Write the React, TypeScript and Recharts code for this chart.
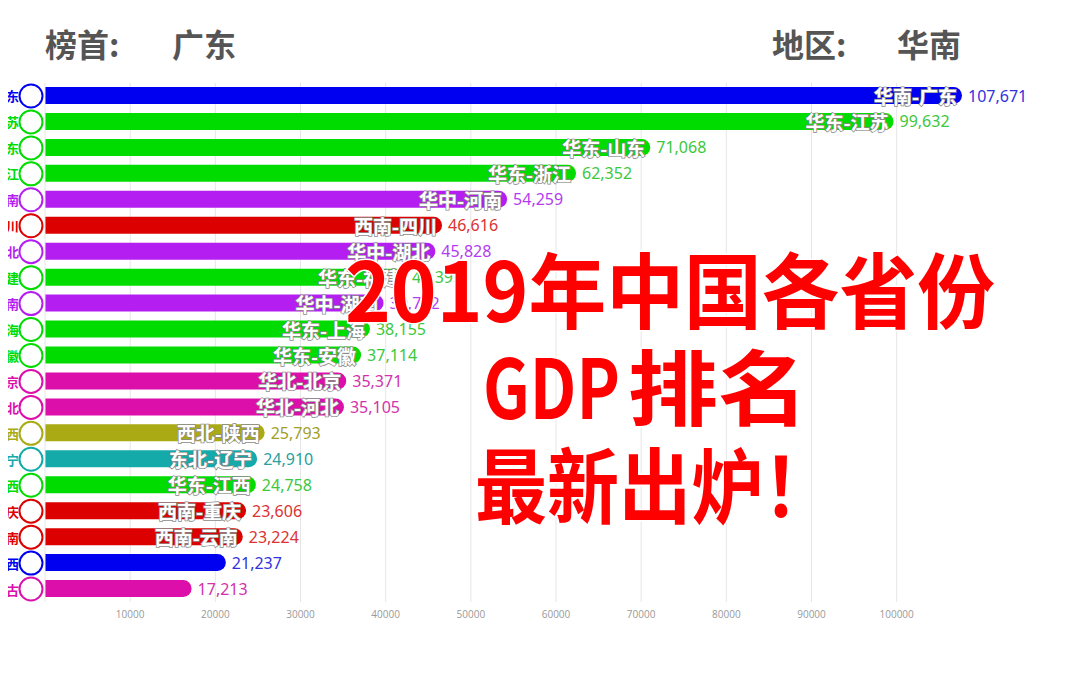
import { Bar, BarChart, CartesianGrid, Cell, LabelList, XAxis, YAxis } from 'recharts'

const PROVINCES = [
  '广东', '江苏', '山东', '浙江', '河南', '四川', '湖北', '福建', '湖南', '上海',
  '安徽', '北京', '河北', '陕西', '辽宁', '江西', '重庆', '云南', '广西', '内蒙古',
]
const REGIONS = [
  '华南', '华东', '华东', '华东', '华中', '西南', '华中', '华东', '华中', '华东',
  '华东', '华北', '华北', '西北', '东北', '华东', '西南', '西南', '华南', '华北',
]
const GDP = [
  107671, 99632, 71068, 62352, 54259, 46616, 45828, 42395, 39752, 38155,
  37114, 35371, 35105, 25793, 24910, 24758, 23606, 23224, 21237, 17213,
]
const X_TICKS = [10000, 20000, 30000, 40000, 50000, 60000, 70000, 80000, 90000, 100000]
// only the first rows carry a name inside the bar
const NAMED_ROWS = 18

const REGION_COLORS: Record<string, string> = {
  华南: '#0000f0',
  华东: '#00dc00',
  华中: '#b41ef0',
  西南: '#dc0000',
  华北: '#dc0faa',
  西北: '#aaaa14',
  东北: '#14aaaa',
}
const VALUE_COLORS: Record<string, string> = {
  华南: '#3232dc',
  华东: '#3cc83c',
  华中: '#b43cf0',
  西南: '#dc3232',
  华北: '#d232aa',
  西北: '#a0a028',
  东北: '#28a0a0',
}

const data = PROVINCES.map((name, i) => ({
  name,
  region: REGIONS[i],
  value: GDP[i],
  label: `${REGIONS[i]}-${name}`,
}))

const CJK = '"Noto Sans CJK SC", "Noto Sans", sans-serif'

function ProvinceTick(props: any) {
  const { x, y, payload, index } = props
  const row = data[index] ?? data.find((d) => d.name === payload.value)
  const color = REGION_COLORS[row.region]
  return (
    <g>
      <text
        x={x - 26}
        y={y}
        textAnchor="end"
        dominantBaseline="central"
        fill={color}
        fontSize={13}
        fontWeight={700}
        fontFamily={CJK}
      >
        {payload.value}
      </text>
      <circle cx={x - 14} cy={y} r={11.5} fill="#fff" stroke={color} strokeWidth={2} />
    </g>
  )
}

function InnerLabel(props: any) {
  const { x, y, width, height, index } = props
  if (index >= NAMED_ROWS) return null
  return (
    <text
      x={x + width - 5}
      y={y + height / 2}
      textAnchor="end"
      dominantBaseline="central"
      fill="#fff"
      stroke="#8a8a8a"
      strokeWidth={1.5}
      paintOrder="stroke"
      fontSize={19}
      fontWeight={700}
      fontFamily={CJK}
    >
      {data[index].label}
    </text>
  )
}

function ValueLabel(props: any) {
  const { x, y, width, height, index } = props
  const row = data[index]
  return (
    <text
      x={x + width + 6}
      y={y + height / 2}
      dominantBaseline="central"
      fill={VALUE_COLORS[row.region]}
      fontSize={16}
      fontFamily='"Noto Sans", sans-serif'
    >
      {row.value.toLocaleString('en-US')}
    </text>
  )
}

export default function App() {
  return (
    <div
      style={{
        position: 'relative',
        width: 1084,
        height: 678,
        marginLeft: -8,
        marginTop: -8,
        overflow: 'hidden',
        background: '#fff',
      }}
    >
      <div style={{ position: 'absolute', left: -40, top: 0 }}>
        <BarChart
          width={1124}
          height={678}
          layout="vertical"
          data={data}
          margin={{ top: 83, right: 17, left: 0, bottom: 46 }}
        >
          <CartesianGrid horizontal={false} stroke="#e6e6e6" verticalValues={X_TICKS} />
          <XAxis
            type="number"
            domain={[0, 120000]}
            ticks={X_TICKS}
            axisLine={false}
            tickLine={false}
            tickSize={0}
            tickMargin={9}
            height={30}
            tick={{ fill: '#999', fontSize: 10, fontFamily: '"Open Sans", sans-serif' }}
          />
          <YAxis
            type="category"
            dataKey="name"
            width={85}
            tickLine={false}
            tickSize={0}
            tickMargin={0}
            axisLine={{ stroke: '#e6e6e6' }}
            interval={0}
            tick={(p: any) => <ProvinceTick {...p} />}
          />
          <Bar dataKey="value" barSize={17} radius={[0, 9, 9, 0]} isAnimationActive={false}>
            {data.map((d) => (
              <Cell key={d.name} fill={REGION_COLORS[d.region]} />
            ))}
            <LabelList dataKey="value" content={(p: any) => <InnerLabel {...p} />} />
            <LabelList dataKey="value" content={(p: any) => <ValueLabel {...p} />} />
          </Bar>
        </BarChart>
      </div>
      <svg
        width={1084}
        height={678}
        style={{ position: 'absolute', left: 0, top: 0, pointerEvents: 'none' }}
      >
        <g fill="#555" fontSize={32} fontWeight={700} fontFamily={CJK}>
          <text x={45} y={57}>榜首:</text>
          <text x={172} y={57}>广东</text>
          <text x={772} y={57}>地区:</text>
          <text x={897} y={57}>华南</text>
        </g>
        <g
          fill="#ff0000"
          stroke="#fff"
          strokeWidth={3}
          paintOrder="stroke"
          fontSize={82}
          fontWeight={700}
          fontFamily={CJK}
        >
          <text x={345} y={322} textLength={650} lengthAdjust="spacingAndGlyphs">
            2019年中国各省份
          </text>
          <text x={483} y={419} textLength={137} lengthAdjust="spacingAndGlyphs">
            GDP
          </text>
          <text x={628} y={419} textLength={180} lengthAdjust="spacingAndGlyphs">
            排名
          </text>
          <text x={475} y={517} textLength={360} lengthAdjust="spacingAndGlyphs">
            最新出炉！
          </text>
        </g>
      </svg>
    </div>
  )
}
